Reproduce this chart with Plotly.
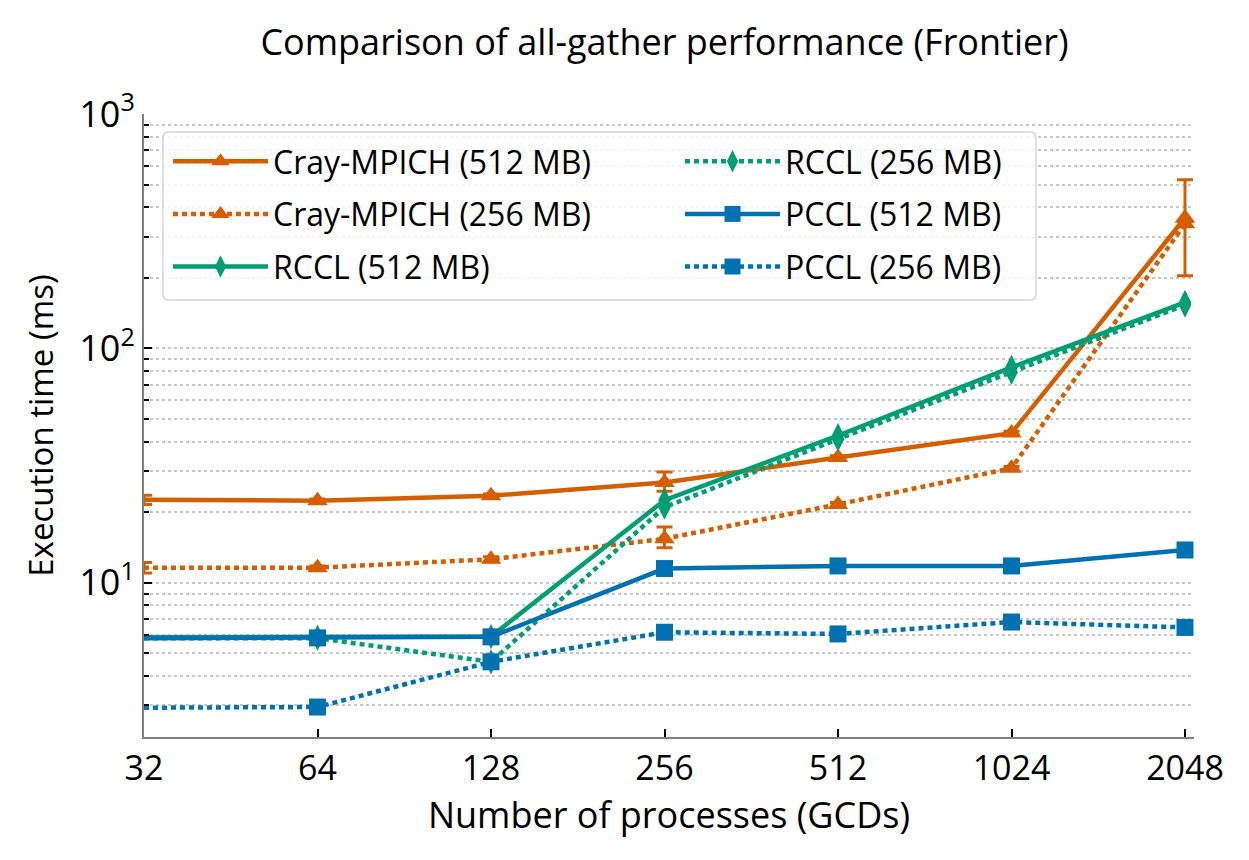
import plotly.graph_objects as go

procs = [32, 64, 128, 256, 512, 1024, 2048]
x_ticks = ["32", "64", "128", "256", "512", "1024", "2048"]

cray512 = [22.6, 22.4, 23.5, 26.8, 34.2, 43.5, 360]
cray512_up = [1.0, 0.4, 0.4, 2.9, 0.6, 0.8, 164]
cray512_dn = [1.0, 0.4, 0.4, 2.2, 0.6, 0.8, 156]

cray256 = [11.6, 11.6, 12.6, 15.4, 21.6, 30.8, 340]
cray256_up = [0.6, 0.2, 0.3, 1.9, 0.4, 0.5, 8]
cray256_dn = [0.6, 0.2, 0.3, 1.3, 0.4, 0.5, 8]

rccl512 = [5.85, 5.85, 5.9, 22.5, 42.5, 83, 157]
rccl256 = [5.8, 5.8, 4.6, 21.0, 41.0, 79, 153]
pccl512 = [5.8, 5.82, 5.88, 11.5, 11.8, 11.8, 13.8]
pccl256 = [2.93, 2.95, 4.6, 6.15, 6.05, 6.8, 6.45]

y_tickvals = [10, 100, 1000]
y_ticktext = ["10<sup>1</sup>", "10<sup>2</sup>", "10<sup>3</sup>"]

ORANGE = "#D55E00"
GREEN = "#009E73"
BLUE = "#0072B2"
DOT = "5px,4px"

series = [
    # name, y, color, dash, symbol, err_up, err_dn, legend
    ("Cray-MPICH (512 MB)", cray512, ORANGE, "solid", "triangle-up", cray512_up, cray512_dn, "legend"),
    ("Cray-MPICH (256 MB)", cray256, ORANGE, DOT, "triangle-up", cray256_up, cray256_dn, "legend"),
    ("RCCL (512 MB)", rccl512, GREEN, "solid", "diamond-tall", None, None, "legend"),
    ("RCCL (256 MB)", rccl256, GREEN, DOT, "diamond-tall", None, None, "legend2"),
    ("PCCL (512 MB)", pccl512, BLUE, "solid", "square", None, None, "legend2"),
    ("PCCL (256 MB)", pccl256, BLUE, DOT, "square", None, None, "legend2"),
]
marker_size = {"triangle-up": 18, "diamond-tall": 18, "square": 17}

fig = go.Figure()
for i, (name, y, color, dash, sym, up, dn, leg) in enumerate(series):
    kw = {}
    if up is not None:
        kw["error_y"] = dict(type="data", symmetric=False, array=up, arrayminus=dn,
                             color=color, thickness=3, width=8)
    fig.add_trace(go.Scatter(
        x=procs, y=y, name=name, mode="lines+markers",
        line=dict(color=color, width=4.5, dash=dash),
        marker=dict(symbol=sym, size=marker_size[sym], color=color),
        legend=leg, legendgroup="g%d" % i, cliponaxis=False, **kw))

FONT = "'Open Sans', sans-serif"

# plot-area geometry (pixels) used only for placing the legend frame
L, R, T, B = 144, 55, 114, 123
PW, PH = 1249 - L - R, 860 - T - B

def px(xp):
    return (xp - L) / PW

def py(yp):
    return 1 - (yp - T) / PH

fx0, fx1, fy0, fy1 = px(163), px(1036), py(300), py(132)
rx, ry = 6 / PW, 6 / PH
frame_path = (f"M{fx0+rx},{fy1} L{fx1-rx},{fy1} Q{fx1},{fy1} {fx1},{fy1-ry} "
              f"L{fx1},{fy0+ry} Q{fx1},{fy0} {fx1-rx},{fy0} L{fx0+rx},{fy0} "
              f"Q{fx0},{fy0} {fx0},{fy0+ry} L{fx0},{fy1-ry} Q{fx0},{fy1} {fx0+rx},{fy1} Z")

leg_common = dict(orientation="v", xanchor="left", yanchor="top",
                  bgcolor="rgba(0,0,0,0)", borderwidth=0,
                  font=dict(size=32, family=FONT), itemwidth=95,
                  tracegroupgap=8, traceorder="grouped")

fig.update_layout(
    width=1249, height=860,
    paper_bgcolor="white", plot_bgcolor="white",
    margin=dict(l=L, r=R, t=T, b=B, autoexpand=False),
    font=dict(family=FONT, size=30, color="black"),
    title=dict(text="Comparison of all-gather performance (Frontier)", x=(L + 1041 / 2) / 1249,
               xanchor="center", y=1 - 42 / 860, yanchor="middle", font=dict(size=36)),
    showlegend=True,
    legend=dict(x=px(168), y=py(134), **leg_common),
    legend2=dict(x=px(680), y=py(134), **leg_common),
    shapes=[dict(type="path", xref="paper", yref="paper", path=frame_path,
                 line=dict(color="#d6d6d6", width=1.5), fillcolor="rgba(255,255,255,0.8)",
                 layer="above")],
)
fig.update_xaxes(
    type="log", range=[1.50515, 3.32695], tickvals=procs, ticktext=x_ticks,
    showgrid=False, showline=True, linecolor="#808080", linewidth=2,
    ticks="inside", ticklen=8, tickcolor="black", tickwidth=1.5,
    tickfont=dict(size=34), zeroline=False,
    title=dict(text="Number of processes (GCDs)", font=dict(size=36), standoff=8),
)
fig.update_yaxes(
    type="log", range=[0.342, 3.0], tickvals=y_tickvals, ticktext=y_ticktext,
    showgrid=True, gridcolor="#c8c8c8", griddash="dot", gridwidth=1.5,
    showline=True, linecolor="#808080", linewidth=2,
    ticks="inside", ticklen=8, tickcolor="black", tickwidth=1.5,
    tickfont=dict(size=36), zeroline=False,
    minor=dict(ticks="inside", ticklen=5, tickcolor="black", showgrid=True,
               gridcolor="#c8c8c8", griddash="dot", gridwidth=1.5,
               dtick="D1"),
    title=dict(text="Execution time (ms)", font=dict(size=33), standoff=16),
)

fig.write_html("out.html")
